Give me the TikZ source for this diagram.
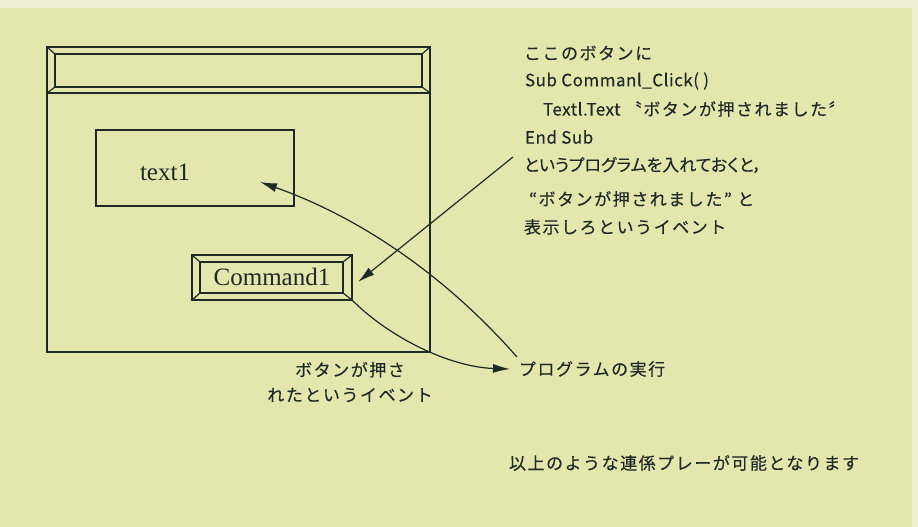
\documentclass[tikz,border=0pt]{standalone}
\usepackage{fontspec}
\setmainfont{Liberation Serif}
\newfontfamily\jfont{Noto Sans CJK JP}[FakeBold=0.2]
\usetikzlibrary{arrows.meta}
\definecolor{bg}{HTML}{E3E7AE}
\definecolor{bgl}{HTML}{EEF0D6}
\definecolor{ink}{HTML}{1F2925}
\newcommand\JS[1]{{\addfontfeatures{LetterSpace=9}#1}}
\newcommand\LS[1]{{\addfontfeatures{LetterSpace=3}#1}}
\newcommand\PS[1]{{\addfontfeatures{RawFeature=+palt}#1}}
\begin{document}
\begin{tikzpicture}[x=1pt,y=-1pt,
  every node/.style={inner sep=0pt, outer sep=0pt},
  ln/.style={draw=ink, line width=1.2pt},
  frame/.style={draw=ink, line width=1.2pt, minimum width=#1},
  jtext/.style={font=\jfont\fontsize{17}{25}\selectfont, text=ink},
  serif/.style={font=\fontsize{25}{28}\selectfont, text=ink},
  arr/.style={draw=ink, line width=1.2pt, -{Latex[length=17pt,width=9pt]}}]
\useasboundingbox (0,0) rectangle (918,527);
\fill[bgl] (0,0) rectangle (918,527);
\fill[bg] (0,8) rectangle (912,527);

% window
\node[frame=383pt, minimum height=305pt] (win) at (238.5,199.5) {};
% title bar
\node[frame=383pt, minimum height=46pt] (tbar) at (238.5,70) {};
\node[frame=367pt, minimum height=33pt] (tbari) at (238.5,70.5) {};
\draw[ln] (tbar.north west) -- (tbari.north west);
\draw[ln] (tbar.north east) -- (tbari.north east);
\draw[ln] (tbar.south west) -- (tbari.south west);
\draw[ln] (tbar.south east) -- (tbari.south east);
% text box
\node[frame=198pt, minimum height=76pt] (tb) at (195,168) {};
\node[serif, anchor=west] (t1) at (140,172) {text1};
% button
\node[frame=160pt, minimum height=45pt] (btn) at (272,277.5) {};
\node[frame=143pt, minimum height=31pt] (btni) at (271.5,277.5) {};
\draw[ln] (btn.north west) -- (btni.north west);
\draw[ln] (btn.north east) -- (btni.north east);
\draw[ln] (btn.south west) -- (btni.south west);
\draw[ln] (btn.south east) -- (btni.south east);
\node[serif] (cmd) at (272,277) {Command1};

% right texts
\node[jtext, anchor=west] (l1) at (524,53) {\JS{ここのボタンに}};
\node[jtext, anchor=west] (l2) at (525,81) {\LS{Sub Commanl\_Click( )}};
\node[jtext, anchor=west] (l3) at (543,109) {\LS{Textl.Text }\JS{〝ボタンが押されました〞}};
\node[jtext, anchor=west] (l4) at (525,137) {\LS{End Sub}};
\node[jtext, anchor=west] (l5) at (524,165) {\PS{というプログラムを入れておくと，}};
\node[jtext, anchor=west] (l6) at (529,199) {\JS{“ボタンが押されました” と}};
\node[jtext, anchor=west] (l7) at (524,227) {\JS{表示しろというイベント}};

\node[jtext, align=center] (ev) at (350,382) {\JS{ボタンが押さ}\\\JS{れたというイベント}};
\node[jtext, anchor=west] (exec) at (519,369) {\JS{プログラムの実行}};
\node[jtext, anchor=west] (fin) at (509,463) {\JS{以上のような連係プレーが可能となります}};

% connectors
\coordinate (a1) at (513,157);
\draw[arr] (a1) -- ([shift={(6,4.5)}]btn.east);
\draw[arr] (btn.south east) .. controls +(38,38) and +(-60,-2) .. ([xshift=-9pt]exec.west);
\coordinate (a3) at (517,357);
\coordinate (t1tip) at (260,182);
\draw[arr] (a3) .. controls (445,275) and (359,217) .. (t1tip);
\end{tikzpicture}
\end{document}
